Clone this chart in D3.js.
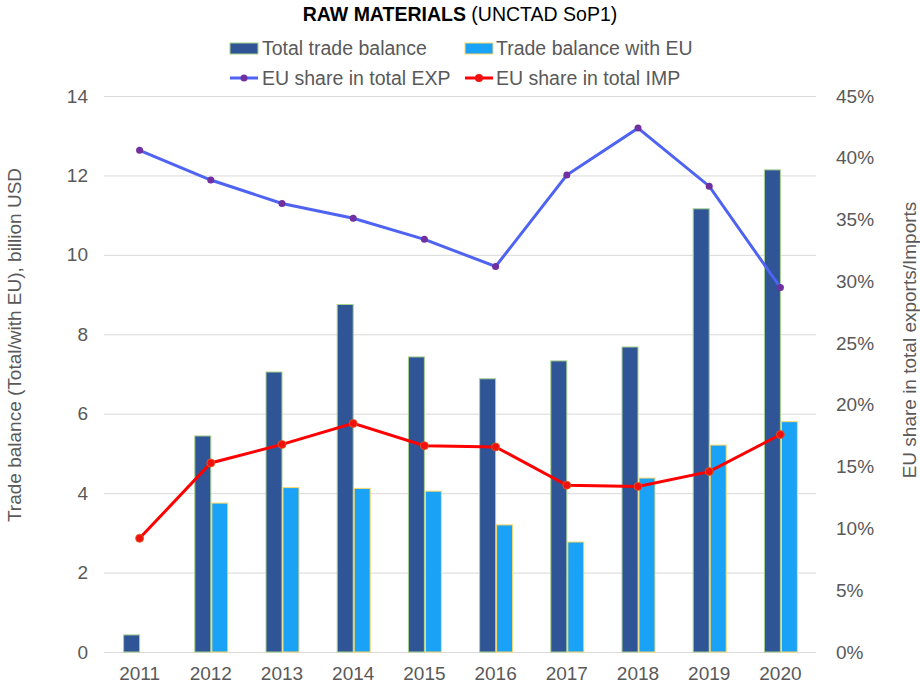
<!DOCTYPE html>
<html>
<head>
<meta charset="utf-8">
<script src="https://cdn.jsdelivr.net/npm/d3@7"></script>
<style>
  body { margin: 0; background: #fff; }
  text { font-family: "Liberation Sans", Arial, sans-serif; fill: #595959; }
</style>
</head>
<body>
<svg id="chart" width="920" height="686"></svg>
<script>
const years = ['2011', '2012', '2013', '2014', '2015', '2016', '2017', '2018', '2019', '2020']
const totalBalance = [0.43, 5.44, 7.05, 8.75, 7.43, 6.88, 7.33, 7.68, 11.16, 12.14]
const euBalance = [0, 3.75, 4.14, 4.12, 4.05, 3.2, 2.77, 4.38, 5.21, 5.8]
const expShare = [0.406, 0.382, 0.363, 0.351, 0.334, 0.312, 0.386, 0.424, 0.377, 0.295]
const impShare = [0.092, 0.153, 0.168, 0.185, 0.167, 0.166, 0.135, 0.134, 0.146, 0.176]
const leftTicks = [0, 2, 4, 6, 8, 10, 12, 14]
const rightTicks = [0, 0.05, 0.1, 0.15, 0.2, 0.25, 0.3, 0.35, 0.4, 0.45]

const svg = d3.select('#chart')
const plot = { left: 104, right: 816, top: 96, bottom: 652 }
const tickFont = 19
const legendFont = 19.5

const x = d3.scaleBand()
  .domain(years)
  .range([plot.left, plot.right])
const yL = d3.scaleLinear().domain([0, 14]).range([plot.bottom, plot.top])
const yR = d3.scaleLinear().domain([0, 0.45]).range([plot.bottom, plot.top])
const barW = 16

// gridlines
svg.append('g')
  .selectAll('line')
  .data(leftTicks)
  .join('line')
    .attr('x1', plot.left)
    .attr('x2', plot.right)
    .attr('y1', d => yL(d) + 0.5)
    .attr('y2', d => yL(d) + 0.5)
    .attr('stroke', '#d9d9d9')
    .attr('stroke-width', 1)

// left axis
const axL = svg.append('g')
    .attr('transform', `translate(${plot.left - 16},0)`)
    .call(d3.axisLeft(yL).tickValues(leftTicks).tickSize(0).tickPadding(0))
axL.select('.domain').remove()
axL.selectAll('text').attr('font-size', tickFont).attr('fill', '#595959')

// right axis
const axR = svg.append('g')
    .attr('transform', `translate(${plot.right + 20},0)`)
    .call(d3.axisRight(yR).tickValues(rightTicks).tickFormat(d3.format('.0%')).tickSize(0).tickPadding(0))
axR.select('.domain').remove()
axR.selectAll('text').attr('font-size', tickFont).attr('fill', '#595959')

// x axis
const axX = svg.append('g')
    .attr('transform', `translate(0,${plot.bottom + 11})`)
    .call(d3.axisBottom(x).tickSize(0).tickPadding(0))
axX.select('.domain').remove()
axX.selectAll('text').attr('font-size', tickFont).attr('fill', '#595959').attr('dy', '0.9em')

// bars
const cx = d => x(d) + x.bandwidth() / 2
svg.append('g')
  .selectAll('rect')
  .data(years)
  .join('rect')
    .attr('x', (d, i) => cx(d) - barW)
    .attr('y', (d, i) => yL(totalBalance[i]))
    .attr('width', barW)
    .attr('height', (d, i) => yL(0) - yL(totalBalance[i]))
    .attr('fill', '#2f5597')
    .attr('stroke', '#a9d18e')
    .attr('stroke-width', 1)

svg.append('g')
  .selectAll('rect')
  .data(years.filter((d, i) => euBalance[i] > 0))
  .join('rect')
    .attr('x', d => cx(d) + 1)
    .attr('y', d => yL(euBalance[years.indexOf(d)]))
    .attr('width', barW)
    .attr('height', d => yL(0) - yL(euBalance[years.indexOf(d)]))
    .attr('fill', '#19a2f6')
    .attr('stroke', '#ffd966')
    .attr('stroke-width', 1)

// lines
const line = d3.line()
  .x((d, i) => cx(years[i]))
  .y(d => yR(d))

svg.append('path')
  .attr('d', line(expShare))
  .attr('fill', 'none')
  .attr('stroke', '#4f63f2')
  .attr('stroke-width', 3)
svg.append('g')
  .selectAll('circle')
  .data(expShare)
  .join('circle')
    .attr('cx', (d, i) => cx(years[i]))
    .attr('cy', d => yR(d))
    .attr('r', 3.5)
    .attr('fill', '#7030a0')

svg.append('path')
  .attr('d', line(impShare))
  .attr('fill', 'none')
  .attr('stroke', '#ff0000')
  .attr('stroke-width', 3)
svg.append('g')
  .selectAll('circle')
  .data(impShare)
  .join('circle')
    .attr('cx', (d, i) => cx(years[i]))
    .attr('cy', d => yR(d))
    .attr('r', 4)
    .attr('fill', '#f01010')
    .attr('stroke', '#e06020')
    .attr('stroke-width', 0.8)

// axis titles
svg.append('text')
  .attr('transform', `translate(21,${(plot.top + plot.bottom) / 2 - 29}) rotate(-90)`)
  .attr('text-anchor', 'middle')
  .attr('font-size', 19)
  .text('Trade balance (Total/with EU), billion USD')

svg.append('text')
  .attr('transform', `translate(916,${(plot.top + plot.bottom) / 2 - 34}) rotate(-90)`)
  .attr('text-anchor', 'middle')
  .attr('font-size', 19)
  .text('EU share in total exports/Imports')

// title
const title = svg.append('text')
  .attr('x', 460)
  .attr('y', 21)
  .attr('text-anchor', 'middle')
  .attr('font-size', 19.5)
title.append('tspan').attr('font-weight', 'bold').attr('fill', '#000').text('RAW MATERIALS')
title.append('tspan').attr('fill', '#000').text(' (UNCTAD SoP1)')

// legend
const legend = svg.append('g')
const lg1 = legend.append('g').attr('transform', 'translate(230,48)')
lg1.append('rect').attr('x', 0).attr('y', -5).attr('width', 28).attr('height', 11)
  .attr('fill', '#2f5597').attr('stroke', '#a9d18e')
lg1.append('text').attr('x', 32).attr('y', 7).attr('font-size', legendFont).text('Total trade balance')

const lg2 = legend.append('g').attr('transform', 'translate(465,48)')
lg2.append('rect').attr('x', 0).attr('y', -5).attr('width', 28).attr('height', 11)
  .attr('fill', '#19a2f6').attr('stroke', '#ffd966')
lg2.append('text').attr('x', 31).attr('y', 7).attr('font-size', legendFont).text('Trade balance with EU')

const lg3 = legend.append('g').attr('transform', 'translate(230,78)')
lg3.append('line').attr('x1', 0).attr('x2', 28).attr('stroke', '#4f63f2').attr('stroke-width', 3)
lg3.append('circle').attr('cx', 14).attr('r', 3.5).attr('fill', '#7030a0')
lg3.append('text').attr('x', 32).attr('y', 7).attr('font-size', legendFont).text('EU share in total EXP')

const lg4 = legend.append('g').attr('transform', 'translate(465,78)')
lg4.append('line').attr('x1', 0).attr('x2', 28).attr('stroke', '#ff0000').attr('stroke-width', 3)
lg4.append('circle').attr('cx', 14).attr('r', 4).attr('fill', '#f01010')
lg4.append('text').attr('x', 31).attr('y', 7).attr('font-size', legendFont).text('EU share in total IMP')
</script>
</body>
</html>
